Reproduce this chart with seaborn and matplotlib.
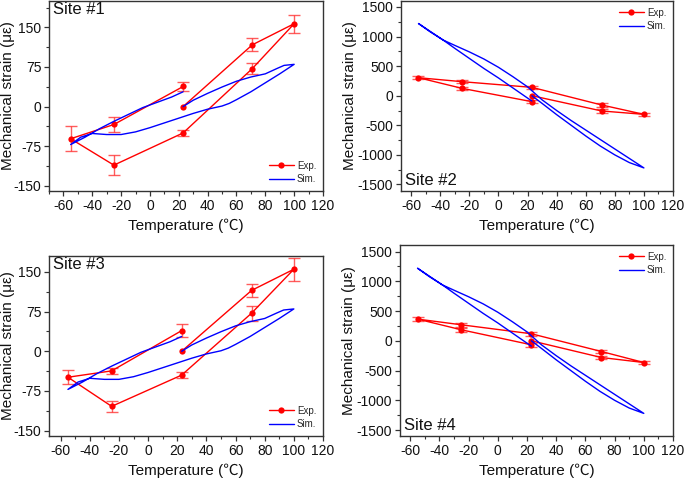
import numpy as np
import pandas as pd
import matplotlib
matplotlib.use("Agg")
import matplotlib.pyplot as plt
import seaborn as sns
from matplotlib.ticker import AutoMinorLocator

sns.set_style("ticks")
plt.rcParams['font.family'] = ['Liberation Sans', 'Noto Sans CJK SC', 'DejaVu Sans']
plt.rcParams['axes.unicode_minus'] = False

# ---------------- data ----------------
# experimental loop order: 23 -> 71 -> 100 -> 71 -> 23 -> -25 -> -55 -> -25 -> 23
exp_T = [23, 71, 100, 71, 23, -25, -55, -25, 23]

exp_site1 = [0, 117, 157, 72, -50, -111, -61, -34, 38]
err_site1 = [0, 12, 17, 11, 6, 19, 24, 15, 8]

exp_site2 = [0, -258, -315, -157, 141, 237, 304, 124, -101]
err_site2 = [0, 30, 30, 30, 30, 30, 25, 30, 30]

exp_site3 = [0, 115, 155, 72, -45, -104, -49, -37, 39]
err_site3 = [0, 13, 22, 14, 5, 11, 13, 6, 12]

exp_site4 = [0, -281, -365, -180, 118, 269, 365, 185, -67]
err_site4 = [0, 30, 30, 30, 30, 30, 38, 30, 30]

# simulated loops
sim_T_a = [23, 30, 40, 50, 60, 70, 80, 88, 93, 100,
           90, 80, 70, 60, 55, 50, 40, 30, 20, 10, 0, -10, -20, -30, -40, -48, -55,
           -45, -35, -25, -15, -5, 5, 15, 23]
sim_site1 = [0, 12, 25, 37, 48, 56, 62, 72, 78, 80,
             62, 45, 28, 13, 6, 1, -5, -13, -22, -31, -40, -48, -53, -53, -51, -58, -72,
             -58, -42, -28, -15, -2, 8, 18, 28]
sim_site3 = [0, 12, 25, 37, 48, 56, 62, 72, 78, 80,
             62, 45, 28, 13, 6, 1, -5, -13, -22, -31, -40, -48, -53, -53, -51, -58, -72,
             -58, -42, -28, -15, -2, 8, 18, 28]

sim_T_b = [23, 30, 40, 50, 60, 70, 80, 90, 100,
           90, 80, 70, 60, 50, 40, 30, 20, 10, 0, -10, -20, -30, -38, -47, -55,
           -47, -38, -30, -20, -10, 0, 10, 20, 23]
sim_site2 = [0, -130, -320, -500, -680, -850, -1000, -1130, -1220,
             -1060, -900, -740, -580, -420, -250, -70, 150, 320, 480, 620, 740, 850, 940, 1080, 1220,
             1088, 940, 800, 630, 460, 300, 130, -40, -90]
sim_site4 = [0, -130, -320, -500, -680, -850, -1000, -1130, -1220,
             -1060, -900, -740, -580, -420, -250, -70, 150, 320, 480, 620, 740, 850, 940, 1080, 1220,
             1088, 940, 800, 630, 460, 300, 130, -40, -90]

x_ticks = [-60, -40, -20, 0, 20, 40, 60, 80, 100, 120]
y_ticks_small = [-150, -75, 0, 75, 150]
y_ticks_large = [-1500, -1000, -500, 0, 500, 1000, 1500]

panels = [
    dict(title="Site #1", exp=exp_site1, err=err_site1, simT=sim_T_a, sim=sim_site1,
         pos=[49, 1, 274, 190], xlim=(-70, 120), ylim=(-160, 200), yt=y_ticks_small,
         title_loc="top", leg="lower right", ylab_x=15),
    dict(title="Site #2", exp=exp_site2, err=err_site2, simT=sim_T_b, sim=sim_site2,
         pos=[401, 1, 272, 190], xlim=(-67, 120), ylim=(-1610, 1600), yt=y_ticks_large,
         title_loc="bottom", leg="upper right", ylab_x=357),
    dict(title="Site #3", exp=exp_site3, err=err_site3, simT=sim_T_a, sim=sim_site3,
         pos=[49, 256, 274, 180], xlim=(-68, 120), ylim=(-160, 180), yt=y_ticks_small,
         title_loc="top", leg="lower right", ylab_x=15),
    dict(title="Site #4", exp=exp_site4, err=err_site4, simT=sim_T_b, sim=sim_site4,
         pos=[400, 245, 273, 191], xlim=(-67, 120), ylim=(-1600, 1610), yt=y_ticks_large,
         title_loc="bottom", leg="upper right", ylab_x=356),
]

W, H = 685, 478
fig = plt.figure(figsize=(W / 100, H / 100), dpi=100)
edge = "#333333"

for p in panels:
    x0, y0, w, h = p["pos"]
    ax = fig.add_axes([x0 / W, 1 - (y0 + h) / H, w / W, h / H])
    df_exp = pd.DataFrame({"T": exp_T, "S": p["exp"], "E": p["err"]})
    df_sim = pd.DataFrame({"T": p["simT"], "S": p["sim"]})

    ax.errorbar(df_exp["T"][1:], df_exp["S"][1:], yerr=df_exp["E"][1:], fmt="none",
                ecolor=(1, 0.2, 0.2, 0.8), elinewidth=1.0, capsize=4.5, capthick=1.0, zorder=2)
    sns.lineplot(data=df_exp, x="T", y="S", sort=False, estimator=None, color="red",
                 marker="o", markersize=4.5, markeredgewidth=0, linewidth=1.0,
                 label="Exp.", ax=ax, zorder=3)
    sns.lineplot(data=df_sim, x="T", y="S", sort=False, estimator=None, color="blue",
                 linewidth=1.0, label="Sim.", ax=ax, zorder=4)

    ax.set_xlim(*p["xlim"])
    ax.set_ylim(*p["ylim"])
    ax.set_xticks(x_ticks)
    ax.set_yticks(p["yt"])
    ax.xaxis.set_minor_locator(AutoMinorLocator(2))
    ax.yaxis.set_minor_locator(AutoMinorLocator(2))
    ax.tick_params(which="major", direction="out", length=3.5, width=0.9, colors=edge,
                   labelsize=10, labelcolor="#111111", pad=2)
    ax.tick_params(which="minor", direction="out", length=2, width=0.8, colors=edge)
    for s in ax.spines.values():
        s.set_visible(True)
        s.set_color(edge)
        s.set_linewidth(1.0)

    ax.set_xlabel("Temperature (℃)", fontsize=11, color="#111111", labelpad=4)
    ax.set_ylabel("Mechanical strain (με)", fontsize=11, color="#111111")
    ax.yaxis.set_label_coords((p["ylab_x"] - x0) / w, 0.5)

    if p["title_loc"] == "top":
        ax.text(0.015, 0.995, p["title"], transform=ax.transAxes, ha="left", va="top",
                fontsize=12, color="#111111")
    else:
        ax.text(0.015, 0.015, p["title"], transform=ax.transAxes, ha="left", va="bottom",
                fontsize=12, color="#111111")

    ax.legend(loc=p["leg"], frameon=False, fontsize=7, handlelength=2.6,
              handletextpad=0.3, labelspacing=0.35, borderaxespad=0.3)

fig.savefig("out.png", dpi=100)
